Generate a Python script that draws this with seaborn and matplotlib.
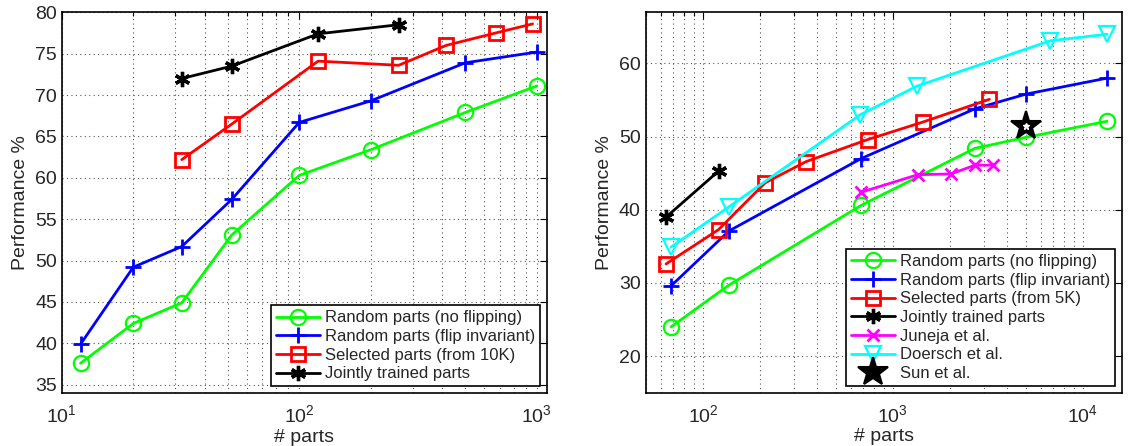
import numpy as np
import matplotlib
matplotlib.use("Agg")
import matplotlib.pyplot as plt
from matplotlib.ticker import LogLocator, NullFormatter, MultipleLocator
import seaborn as sns

# left panel (x = number of parts)
l_rand_x = [12, 20, 32, 52, 100, 200, 500, 1000]
l_rand_noflip = [37.6, 42.4, 44.9, 53.1, 60.3, 63.4, 67.9, 71.1]
l_rand_flip = [39.9, 49.2, 51.7, 57.4, 66.7, 69.3, 73.9, 75.2]
l_sel_x = [32, 52, 120, 262, 415, 670, 960]
l_sel = [62.2, 66.5, 74.1, 73.6, 76.0, 77.5, 78.6]
l_joint_x = [32, 52, 120, 262]
l_joint = [72.0, 73.5, 77.4, 78.5]

# right panel
r_rand_x = [68, 137, 680, 2700, 5000, 13400]
r_rand_noflip = [24.0, 29.7, 40.6, 48.4, 49.9, 52.1]
r_rand_flip = [29.6, 37.1, 47.0, 53.8, 55.8, 58.0]
r_sel_x = [64, 121, 213, 350, 737, 1440, 3220]
r_sel = [32.6, 37.3, 43.7, 46.6, 49.6, 52.0, 55.1]
r_joint_x = [64, 121]
r_joint = [39.0, 45.3]
r_juneja_x = [680, 1355, 2020, 2710, 3360]
r_juneja = [42.4, 44.8, 44.9, 46.1, 46.1]
r_doersch_x = [68, 137, 674, 1337, 6740, 13400]
r_doersch = [34.9, 40.4, 53.0, 56.9, 63.1, 64.0]
r_sun_x = [5000]
r_sun = [51.4]

sns.set_style("white")
plt.rcParams["font.family"] = ["Liberation Sans", "DejaVu Sans"]
plt.rcParams["mathtext.fontset"] = "custom"
plt.rcParams["mathtext.rm"] = "Liberation Sans"

fig = plt.figure(figsize=(11.33, 4.46), dpi=100)
ax1 = fig.add_axes([0.0545, 0.1188, 0.428, 0.8536])
ax2 = fig.add_axes([0.5699, 0.1195, 0.4201, 0.853])


def draw(ax, x, y, color, marker, label, ms=9, mew=1.6, ls="-", fc="none"):
    sns.lineplot(x=x, y=y, ax=ax, color=color, marker=marker, markersize=ms,
                 markerfacecolor=fc, markeredgecolor=color, markeredgewidth=mew,
                 linewidth=2, linestyle=ls, label=label, sort=False, errorbar=None)


asterisk = (6, 2, 0)

draw(ax1, l_rand_x, l_rand_noflip, "#00ff00", "o", "Random parts (no flipping)", ms=11)
draw(ax1, l_rand_x, l_rand_flip, "#0000ff", "+", "Random parts (flip invariant)", ms=12, mew=2)
draw(ax1, l_sel_x, l_sel, "#ff0000", "s", "Selected parts (from 10K)", ms=10, mew=2)
draw(ax1, l_joint_x, l_joint, "black", asterisk, "Jointly trained parts", ms=11, mew=2.4)

draw(ax2, r_rand_x, r_rand_noflip, "#00ff00", "o", "Random parts (no flipping)", ms=11)
draw(ax2, r_rand_x, r_rand_flip, "#0000ff", "+", "Random parts (flip invariant)", ms=12, mew=2)
draw(ax2, r_sel_x, r_sel, "#ff0000", "s", "Selected parts (from 5K)", ms=10, mew=2)
draw(ax2, r_joint_x, r_joint, "black", asterisk, "Jointly trained parts", ms=11, mew=2.4)
draw(ax2, r_juneja_x, r_juneja, "#ff00ff", "x", "Juneja et al.", ms=8, mew=2)
draw(ax2, r_doersch_x, r_doersch, "#00ffff", "v", "Doersch et al.", ms=12, mew=1.6)
draw(ax2, r_sun_x, r_sun, "black", "*", "Sun et al.", ms=22, mew=1.5, ls="none", fc="black")
# small white centre of the star
ax2.plot(r_sun_x, r_sun, linestyle="none", marker="*", markersize=5,
         markerfacecolor="white", markeredgecolor="white")

ax1.set_xscale("log")
ax2.set_xscale("log")
ax1.set_xlim(10, 1100)
ax1.set_ylim(34, 80)
ax1.yaxis.set_major_locator(MultipleLocator(5))
ax2.set_xlim(50, 16000)
ax2.set_ylim(15, 67)
ax2.yaxis.set_major_locator(MultipleLocator(10))

for ax in (ax1, ax2):
    ax.xaxis.set_major_locator(LogLocator(base=10))
    ax.xaxis.set_minor_locator(LogLocator(base=10, subs=np.arange(2, 10)))
    ax.xaxis.set_minor_formatter(NullFormatter())
    ax.grid(True, which="major", axis="both", color="#555555", linestyle=(0, (1, 3)), linewidth=0.8)
    ax.grid(True, which="minor", axis="x", color="#555555", linestyle=(0, (1, 3)), linewidth=0.8)
    ax.tick_params(axis="both", which="both", direction="in", top=True, right=True,
                   labelsize=14, length=5, width=0.8, color="black")
    ax.tick_params(axis="x", which="minor", length=3)
    ax.tick_params(axis="x", which="major", pad=8)
    for s in ax.spines.values():
        s.set_color("black")
        s.set_linewidth(1.2)
    ax.set_xlabel("# parts", fontsize=14, labelpad=2)
    ax.set_ylabel("Performance %", fontsize=14, labelpad=4)
    leg = ax.legend(loc="lower right", fontsize=12, frameon=True, fancybox=False,
                    framealpha=1, edgecolor="black", handlelength=2.6,
                    borderpad=0.3, labelspacing=0.22, handletextpad=0.3,
                    borderaxespad=0.4)
    leg.get_frame().set_linewidth(1.2)

fig.savefig("out.png", dpi=100)
